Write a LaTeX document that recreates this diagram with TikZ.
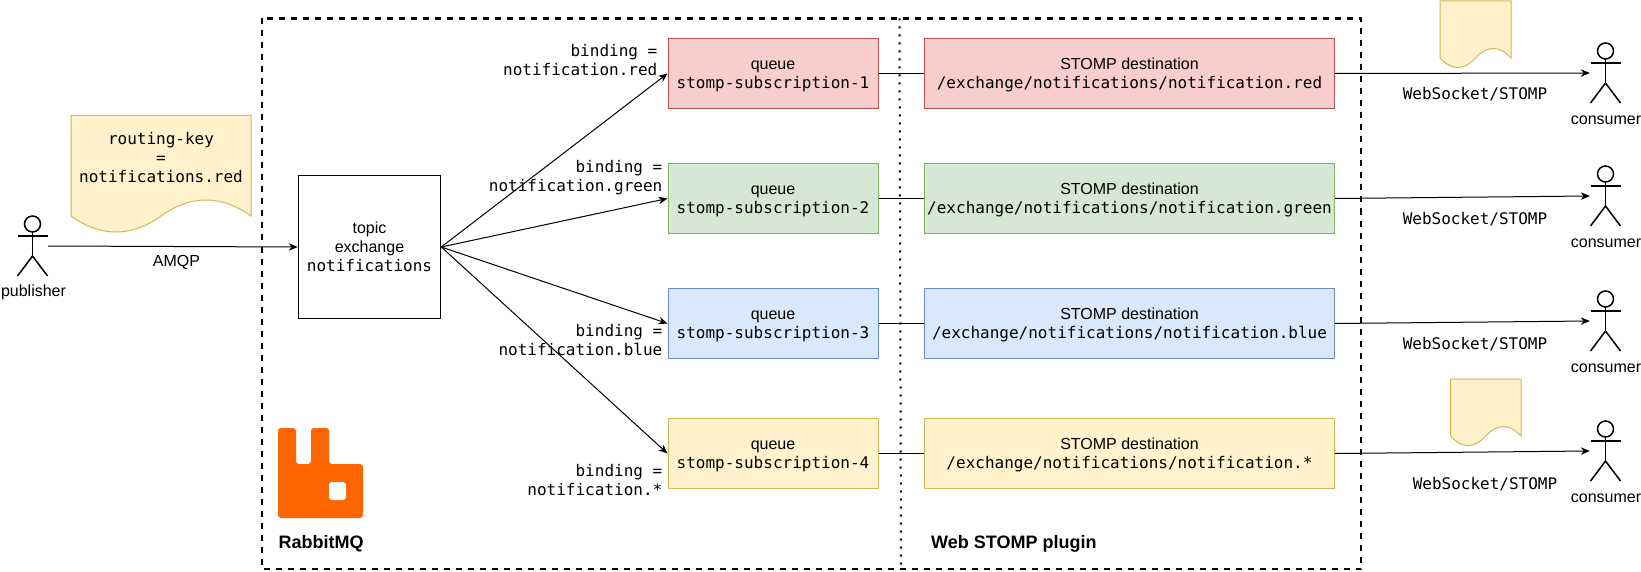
\documentclass[tikz,border=0pt]{standalone}
\usepackage{fontspec}
\setmainfont{Liberation Sans}
\setmonofont{DejaVu Sans Mono}
\usetikzlibrary{arrows.meta}
\definecolor{redfill}{HTML}{F8CECC}\definecolor{redline}{HTML}{B85450}
\definecolor{greenfill}{HTML}{D5E8D4}\definecolor{greenline}{HTML}{82B366}
\definecolor{bluefill}{HTML}{DAE8FC}\definecolor{blueline}{HTML}{6C8EBF}
\definecolor{yellowfill}{HTML}{FFF2CC}\definecolor{yellowline}{HTML}{D6B656}
\definecolor{rabbit}{HTML}{FF6600}
\newcommand{\sanstxt}{\fontsize{16}{19}\selectfont}
\newcommand{\monotxt}{\fontsize{16}{19}\selectfont\ttfamily}
\newcommand{\lowerstrut}{\rule{0pt}{15pt}}
\tikzset{
  wire/.style={draw=black,line width=1pt},
  arrowwire/.style={wire,-{Stealth[length=9pt,width=7.5pt]}},
  qbox/.style={draw,line width=1pt,minimum width=210pt,minimum height=70pt,inner sep=0pt,align=center,font=\sanstxt},
  sbox/.style={qbox,minimum width=410pt},
  redstyle/.style={fill=redfill,draw=redline},
  greenstyle/.style={fill=greenfill,draw=greenline},
  bluestyle/.style={fill=bluefill,draw=blueline},
  yellowstyle/.style={fill=yellowfill,draw=yellowline},
  label/.style={inner sep=0pt,align=center,font=\sanstxt},
  monolabel/.style={inner sep=0pt,align=center,font=\monotxt},
  bindlabel/.style={inner sep=0pt,align=right,anchor=east,font=\monotxt},
  actorbox/.style={minimum width=31pt,minimum height=60pt,inner sep=0pt},
  actorline/.style={draw=black,line width=1.5pt},
  docline/.style={fill=yellowfill,draw=yellowline,line width=1pt},
}
\newcommand{\actorat}[3]{%
  \node[actorbox] (#1) at (#2,#3) {};
  \draw[actorline] (#2,#3-22) circle (8pt);
  \draw[actorline] (#2,#3-14) -- (#2,#3+10);
  \draw[actorline] (#2-15,#3-10) -- (#2+15,#3-10);
  \draw[actorline] (#2-15,#3+30) -- (#2,#3+10) -- (#2+15,#3+30);
}
\newcommand{\docat}[5]{%
  \path[docline] (#1,#3) -- (#2,#3) -- (#2,#4)
    .. controls ({#2-(#2-#1)/6},#4-#5*4/3) and ({#2-(#2-#1)/3},#4-#5*4/3) .. ({(#1+#2)/2},#4)
    .. controls ({#1+(#2-#1)/3},#4+#5*4/3) and ({#1+(#2-#1)/6},#4+#5*4/3) .. (#1,#4) -- cycle;
}
\begin{document}
\begin{tikzpicture}[x=1pt,y=-1pt]
\useasboundingbox (0,0) rectangle (1641,572);
\fill[white] (0,0) rectangle (1641,572);
% container
\draw[line width=2.2pt,dash pattern=on 6pt off 6pt] (262,18.5) rectangle (1361,569);
\draw[line width=2pt,dash pattern=on 2pt off 6pt] (899.5,18.5) -- (901,569);
% documents
\docat{71}{251}{115.5}{216}{16}
\node[monolabel] (rk) at (161,158) {routing-key\\=\\notifications.red};
\docat{1440}{1511}{1}{58}{9.5}
\docat{1450.5}{1521}{379}{436}{9.5}
% actors
\actorat{pub}{32.5}{246}
\actorat{c1}{1605.5}{73}
\actorat{c2}{1605.5}{196}
\actorat{c3}{1605.5}{321}
\actorat{c4}{1605.5}{451}
\node[label] (publabel) at (33.5,292) {publisher};
\node[label] (c1label) at (1606,120) {consumer};
\node[label] (c2label) at (1606,243) {consumer};
\node[label] (c3label) at (1606,368) {consumer};
\node[label] (c4label) at (1606,498) {consumer};
% exchange
\node[draw=black,line width=1pt,minimum width=142.5pt,minimum height=142.5pt,inner sep=0pt,align=center,font=\sanstxt] (ex) at (369.5,247) {topic\\exchange\\{\monotxt notifications}};
% queues
\node[qbox,redstyle] (q1) at (773,73.5) {\lowerstrut queue\\{\monotxt stomp-subscription-1}};
\node[qbox,greenstyle] (q2) at (773,198.5) {\lowerstrut queue\\{\monotxt stomp-subscription-2}};
\node[qbox,bluestyle] (q3) at (773,323.5) {\lowerstrut queue\\{\monotxt stomp-subscription-3}};
\node[qbox,yellowstyle] (q4) at (773,453.5) {\lowerstrut queue\\{\monotxt stomp-subscription-4}};
% stomp destinations
\node[sbox,redstyle] (s1) at (1129.5,73.5) {\lowerstrut STOMP destination\\{\monotxt /exchange/notifications/notification.red}};
\node[sbox,greenstyle] (s2) at (1129.5,198.5) {\lowerstrut STOMP destination\\{\monotxt /exchange/notifications/notification.green}};
\node[sbox,bluestyle] (s3) at (1129.5,323.5) {\lowerstrut STOMP destination\\{\monotxt /exchange/notifications/notification.blue}};
\node[sbox,yellowstyle] (s4) at (1129.5,453.5) {\lowerstrut STOMP destination\\{\monotxt /exchange/notifications/notification.*}};
% connectors
\draw[arrowwire] (pub.east) -- (ex.west);
\draw[arrowwire] (ex.east) -- (q1.west);
\draw[arrowwire] (ex.east) -- (q2.west);
\draw[arrowwire] (ex.east) -- (q3.west);
\draw[arrowwire] (ex.east) -- (q4.west);
\draw[wire] (q1.east) -- (s1.west);
\draw[wire] (q2.east) -- (s2.west);
\draw[wire] (q3.east) -- (s3.west);
\draw[wire] (q4.east) -- (s4.west);
\draw[arrowwire] (s1.east) -- (c1.west);
\draw[arrowwire] (s2.east) -- (c2.west);
\draw[arrowwire] (s3.east) -- (c3.west);
\draw[arrowwire] (s4.east) -- (c4.west);
% labels
\node[label] (amqp) at (176.5,262) {AMQP};
\node[bindlabel] (b1) at (657.5,60) {binding =\\notification.red};
\node[bindlabel] (b2) at (662.5,178) {binding =\\notification.green};
\node[bindlabel] (b3) at (662.5,340) {binding =\\notification.blue};
\node[bindlabel] (b4) at (662.5,480) {binding =\\notification.*};
\node[monolabel] (w1) at (1475,94) {WebSocket/STOMP};
\node[monolabel] (w2) at (1475,219) {WebSocket/STOMP};
\node[monolabel] (w3) at (1475,344) {WebSocket/STOMP};
\node[monolabel] (w4) at (1485,484) {WebSocket/STOMP};
% logo
\fill[rabbit,rounded corners=3pt] (278,428) -- (296,428) -- (296,464) -- (311,464) -- (311,428) -- (329,428) -- (329,464) -- (363,464) -- (363,518) -- (278,518) -- cycle;
\fill[white,rounded corners=3pt] (329,482) rectangle (346,500);
\node[label,font=\fontsize{18}{21}\selectfont\bfseries] (rabbitlabel) at (321,544) {RabbitMQ};
\node[label,font=\fontsize{18}{21}\selectfont\bfseries,anchor=west] (stomplabel) at (931,544) {Web STOMP plugin};
\end{tikzpicture}
\end{document}
